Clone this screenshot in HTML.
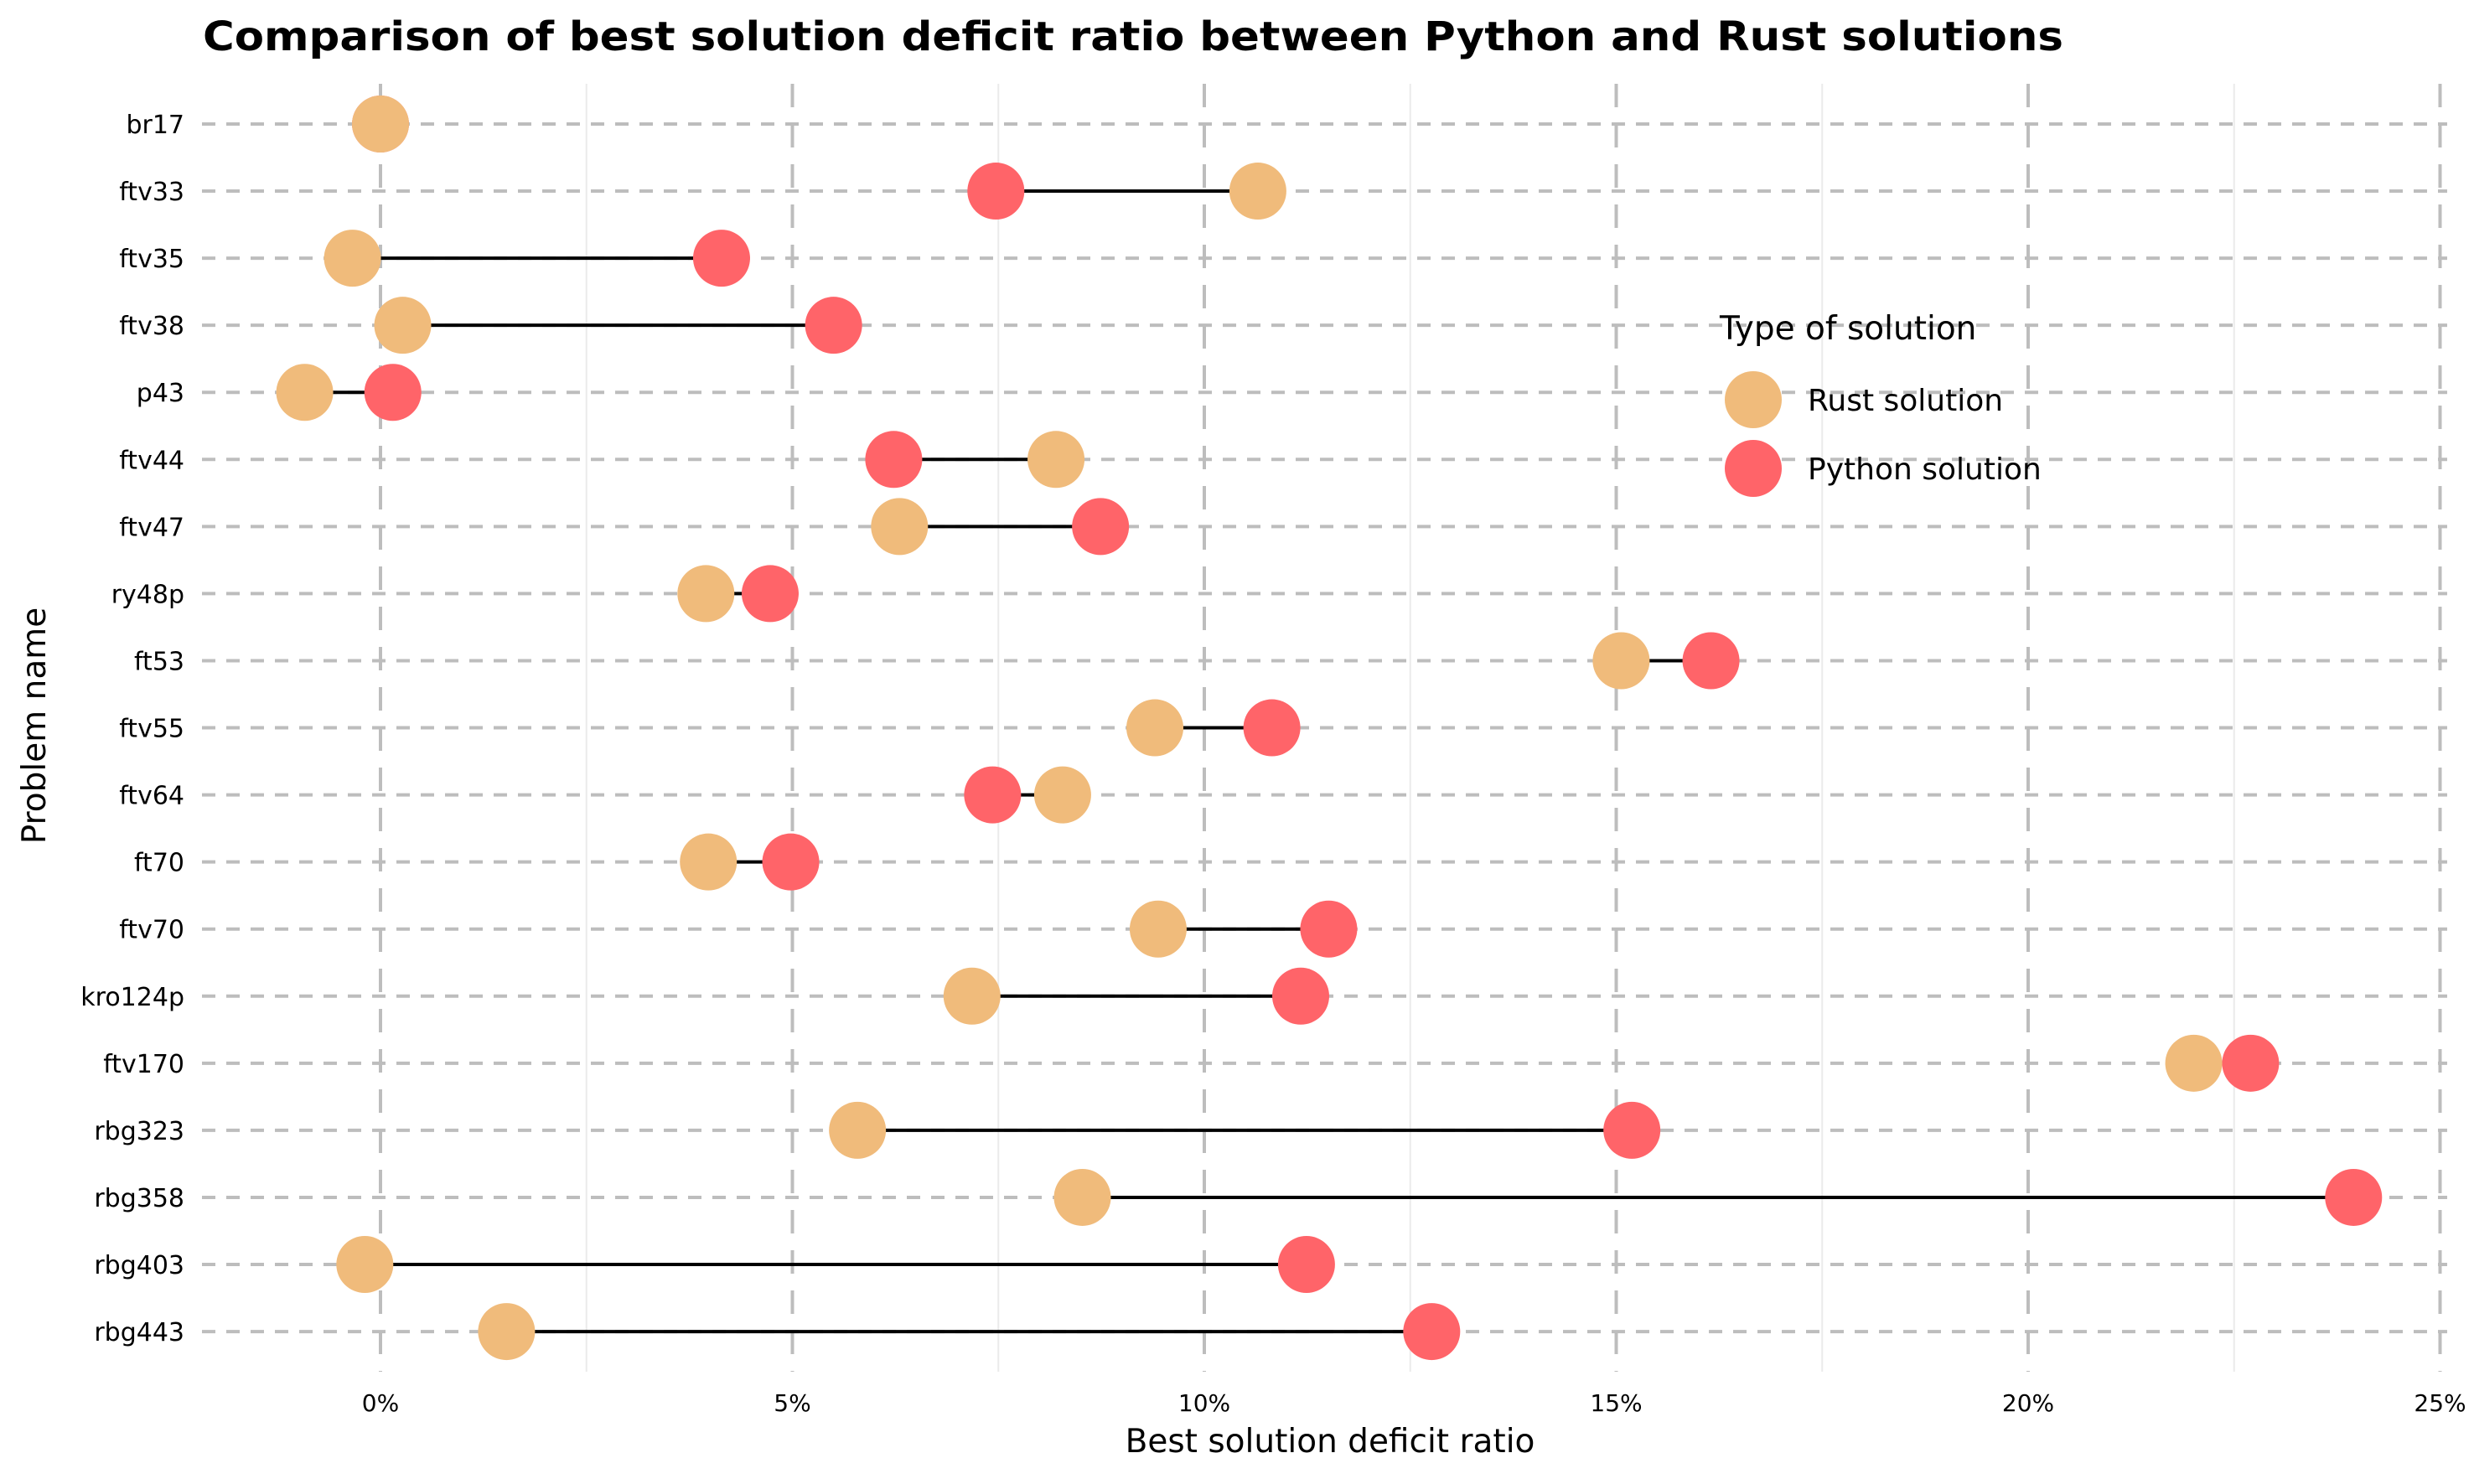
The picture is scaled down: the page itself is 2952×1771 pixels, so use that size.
<!DOCTYPE html>
<html><head><meta charset="utf-8"><style>
html,body{margin:0;padding:0;background:#fff;}
svg{display:block;font-family:"DejaVu Sans","Liberation Sans",sans-serif;}
</style></head><body>
<svg id="chart" width="2952" height="1771" viewBox="0 0 2952 1771" xmlns="http://www.w3.org/2000/svg">
<rect width="2952" height="1771" fill="#fff"/>
<text x="242" y="60" font-size="48" font-weight="bold" fill="#000" textLength="2220" lengthAdjust="spacingAndGlyphs">Comparison of best solution deficit ratio between Python and Rust solutions</text>
<g id="grid"></g>
<g id="marks"></g>
<text x="1587" y="1733" font-size="39" text-anchor="middle" fill="#000">Best solution deficit ratio</text>
<text transform="translate(54,866) rotate(-90)" font-size="39" text-anchor="middle" fill="#000">Problem name</text>
<g>
<text x="2052" y="405" font-size="39" fill="#000">Type of solution</text>
<circle cx="2092" cy="477" r="34" fill="#F0BB7B"/>
<text x="2157" y="490" font-size="36" fill="#000">Rust solution</text>
<circle cx="2092" cy="559" r="34" fill="#FF6469"/>
<text x="2157" y="572" font-size="36" fill="#000">Python solution</text>
</g>
</svg>
<script>
const problems = ["br17","ftv33","ftv35","ftv38","p43","ftv44","ftv47","ry48p","ft53","ftv55","ftv64","ft70","ftv70","kro124p","ftv170","rbg323","rbg358","rbg403","rbg443"];
const rustValues = [0,10.65,-0.34,0.27,-0.92,8.2,6.3,3.95,15.06,9.4,8.28,3.98,9.44,7.18,22.01,5.79,8.52,-0.19,1.53];
const pythonValues = [0,7.47,4.14,5.5,0.15,6.23,8.74,4.73,16.15,10.82,7.43,4.98,11.51,11.17,22.7,15.19,23.95,11.24,12.76];
const xTicks = [0,5,10,15,20,25];
const xTickLabels = ["0%","5%","10%","15%","20%","25%"];

const NS="http://www.w3.org/2000/svg";
const x = v => 454 + v*98.3;
const y = i => 148 + i*80.06;
const grid=document.getElementById('grid'), marks=document.getElementById('marks');
function mk(tag, attrs, parent){const e=document.createElementNS(NS,tag);for(const k in attrs)e.setAttribute(k,attrs[k]);parent.appendChild(e);return e;}
for(let i=0;i<xTicks.length-1;i++){
  const m=(xTicks[i]+xTicks[i+1])/2;
  const l=mk('line',{x1:x(m),x2:x(m),y1:100,y2:1637,stroke:'#ebebeb','stroke-width':2},grid);
  
  
}
xTicks.forEach((t,i)=>{
  const l=mk('line',{x1:x(t),x2:x(t),y1:100,y2:1637,stroke:'#bdbdbd','stroke-width':4,'stroke-dasharray':'28,20'},grid);
  
  
  const tx=mk('text',{x:x(t),y:1684,'font-size':28,'text-anchor':'middle',fill:'#000'},grid);
  tx.textContent=xTickLabels[i];
  
  
});
problems.forEach((p,i)=>{
  const l=mk('line',{x1:241,x2:2920,y1:y(i),y2:y(i),stroke:'#bdbdbd','stroke-width':4,'stroke-dasharray':'16,13'},grid);
  
  
  const tx=mk('text',{x:220,y:y(i)+11,'font-size':30,'text-anchor':'end',fill:'#000'},grid);
  tx.textContent=p;
  
  
  const c=mk('line',{x1:x(rustValues[i]),x2:x(pythonValues[i]),y1:y(i),y2:y(i),stroke:'#000','stroke-width':4},marks);
  
  
  const pd=mk('circle',{cx:x(pythonValues[i]),cy:y(i),r:34,fill:'#FF6469'},marks);
  
  
  const rd=mk('circle',{cx:x(rustValues[i]),cy:y(i),r:34,fill:'#F0BB7B'},marks);
  
  
});
</script>
</body></html>
